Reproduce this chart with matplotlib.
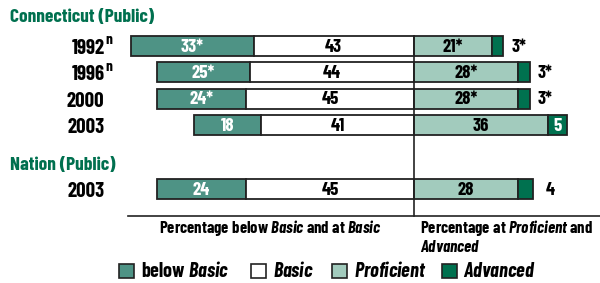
import matplotlib
matplotlib.use("Agg")
import matplotlib.pyplot as plt
from matplotlib.patches import Rectangle

FONT = ['Barlow Condensed', 'DejaVu Sans']
plt.rcParams['font.family'] = FONT
plt.rcParams['font.weight'] = 'bold'
plt.rcParams['mathtext.fontset'] = 'custom'
plt.rcParams['mathtext.rm'] = 'Barlow Condensed:weight=bold'
plt.rcParams['mathtext.it'] = 'Barlow Condensed:style=italic:weight=bold'
plt.rcParams['mathtext.bf'] = 'Barlow Condensed:weight=bold'

# ---- data ----
years = ['1992', '1996', '2000', '2003', '2003']
year_notes = ['n', 'n', '', '', '']
rows = [0, 1, 2, 3, 5.44]
below_basic = [33, 25, 24, 18, 24]
basic = [43, 44, 45, 41, 45]
proficient = [21, 28, 28, 36, 28]
advanced = [3, 3, 3, 5, 4]
below_lbl = ['33*', '25*', '24*', '18', '24']
basic_lbl = ['43', '44', '45', '41', '45']
prof_lbl = ['21*', '28*', '28*', '36', '28']
adv_lbl = ['3*', '3*', '3*', '5', '4']
groups = ['Connecticut (Public)', 'Nation (Public)']
legend_labels = ['below $\\mathit{Basic}$', '$\\mathit{Basic}$',
                 '$\\mathit{Proficient}$', '$\\mathit{Advanced}$']

C_BELOW = '#4e9385'
C_BASIC = '#ffffff'
C_PROF = '#a2cbbd'
C_ADV = '#00714f'
EDGE = '#222222'
GREEN_TXT = '#00704f'

fig = plt.figure(figsize=(6.0, 2.83), dpi=100)
ax = fig.add_axes([0, 0, 1, 1])
ax.set_xlim(-111.0, 49.9)
ax.set_ylim(9.0, -1.747)
ax.axis('off')

H = 0.76
lw = 1.3
for i, r in enumerate(rows):
    b, ba, p, a = below_basic[i], basic[i], proficient[i], advanced[i]
    ax.barh(r, b, left=-(b + ba), height=H, color=C_BELOW, edgecolor=EDGE, linewidth=lw)
    ax.barh(r, ba, left=-ba, height=H, color=C_BASIC, edgecolor=EDGE, linewidth=lw)
    ax.barh(r, p, left=0, height=H, color=C_PROF, edgecolor=EDGE, linewidth=lw)
    ax.barh(r, a, left=p, height=H, color=C_ADV, edgecolor=EDGE, linewidth=lw)
    fs = 13.5
    ax.text(-(ba + b / 2), r + 0.04, below_lbl[i], color='white', ha='center', va='center', fontsize=fs)
    ax.text(-ba / 2, r + 0.04, basic_lbl[i], color='black', ha='center', va='center', fontsize=fs)
    ax.text(p / 2, r + 0.04, prof_lbl[i], color='black', ha='center', va='center', fontsize=fs)
    if a >= 5:
        ax.text(p + a / 2, r + 0.04, adv_lbl[i], color='white', ha='center', va='center', fontsize=fs)
    else:
        ax.text(p + a + 2.3 + (1 if adv_lbl[i][-1] != '*' else 0), r + 0.04, adv_lbl[i],
                color='black', ha='left', va='center', fontsize=fs)
    # year label
    ax.text(-83.0, r + 0.1, years[i], ha='right', va='center', fontsize=15)
    if year_notes[i]:
        ax.text(-82.7, r - 0.22, year_notes[i], ha='left', va='center', fontsize=11)

# group titles
ax.text(-108.3, -1.1, groups[0], ha='left', va='center', fontsize=14, color=GREEN_TXT)
ax.text(-108.3, 4.53, groups[1], ha='left', va='center', fontsize=14, color=GREEN_TXT)

# center and base lines
ax.plot([0, 0], [-0.38, 6.46], color='#222222', lw=1.2)
ax.plot([-76.7, 49.9], [6.46, 6.46], color='#222222', lw=1.2)

# axis captions
ax.text(-38.5, 6.93, 'Percentage below $\\mathit{Basic}$ and at $\\mathit{Basic}$',
        ha='center', va='center', fontsize=12)
ax.text(1.5, 6.93, 'Percentage at $\\mathit{Proficient}$ and', ha='left', va='center', fontsize=12)
ax.text(1.5, 7.62, '$\\mathit{Advanced}$', ha='left', va='center', fontsize=12)

# legend
leg_x = [-79.0, -43.6, -21.9, 7.5]
leg_colors = [C_BELOW, C_BASIC, C_PROF, C_ADV]
for x, c, lab in zip(leg_x, leg_colors, legend_labels):
    ax.add_patch(Rectangle((x, 8.26), 4.0, 0.55, facecolor=c, edgecolor=EDGE, lw=1.2))
    ax.text(x + 5.7, 8.55, lab, ha='left', va='center', fontsize=14.5)

fig.savefig('out.png', dpi=100)
